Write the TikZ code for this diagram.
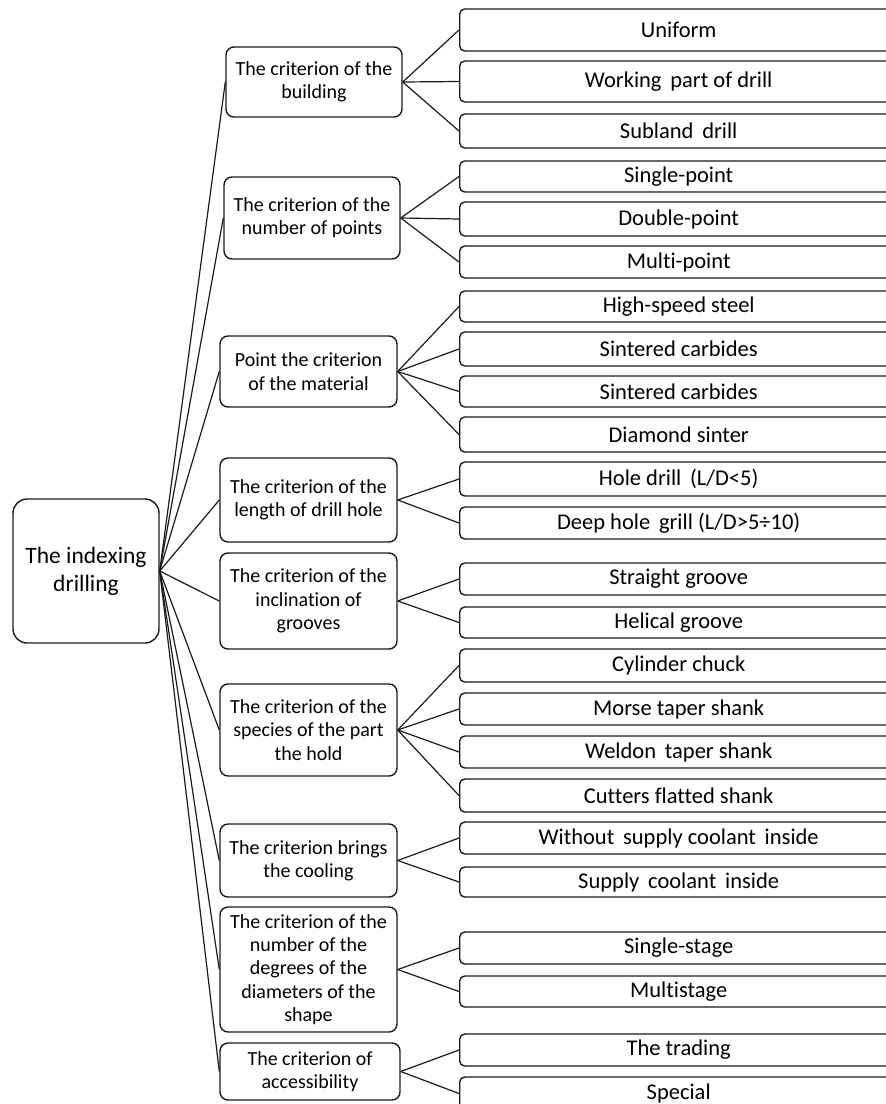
\documentclass[tikz,border=0pt]{standalone}
\usepackage{fontspec}
\setmainfont{Carlito}[Ligatures=NoCommon]
\usepackage{tikz}
\definecolor{ink}{HTML}{1A1A1A}

\begin{document}
\begin{tikzpicture}[
  x=1pt,y=-1pt,
  root/.style={draw=ink,line width=1.4pt,rounded corners=14pt,fill=white,align=center,
    minimum width=146pt,minimum height=144pt,inner sep=2pt,font=\fontsize{23.5}{28}\selectfont},
  crit/.style={draw=ink,line width=1.4pt,rounded corners=8pt,fill=white,align=center,
    minimum width=177pt,inner sep=1pt,font=\fontsize{20}{23.3}\selectfont},
  leaf/.style={draw=ink,line width=1.4pt,rounded corners=5pt,fill=white,anchor=west,
    minimum width=438pt,inner sep=1pt,font=\fontsize{22.5}{24}\selectfont},
  link/.style={draw=ink,line width=1.2pt}
]
\useasboundingbox (0,0) rectangle (886,1104);
% root
\node[root] (idx) at (86,571) {The indexing\\drilling};
% criteria
\node[crit,minimum width=176pt,minimum height=70pt] (bld) at (314,82) {The criterion of the\\building};
\node[crit,minimum width=176pt,minimum height=82pt] (pts) at (312,218) {The criterion of the\\number of points};
\node[crit,minimum height=71pt] (mat) at (308.5,371.5) {Point the criterion\\of the material};
\node[crit,minimum height=84pt] (len) at (308.5,500) {The criterion of the\\length of drill hole};
\node[crit,minimum height=96pt] (inc) at (308.5,601) {The criterion of the\\inclination of\\grooves};
\node[crit,minimum height=92pt] (spc) at (308.5,730) {The criterion of the\\species of the part\\the hold};
\node[crit,minimum height=73pt] (col) at (308.5,860.5) {The criterion brings\\the cooling};
\node[crit,minimum height=125pt] (deg) at (308.5,969.5) {The criterion of the\\number of the\\degrees of the\\diameters of the\\shape};
\node[crit,minimum width=180pt,minimum height=57pt] (acc) at (310,1071.5) {The criterion of\\accessibility};
% kinds
\node[leaf,minimum height=42pt] (unif) at (459,30) {Uniform};
\node[leaf,minimum height=41pt] (work) at (459,81.5) {Working\, part of drill};
\node[leaf,minimum height=34pt] (subl) at (459,131) {Subland\, drill};
\node[leaf,minimum height=31pt] (sgl) at (459,176.5) {Single-point};
\node[leaf,minimum height=34pt] (dbl) at (459,219) {Double-point};
\node[leaf,minimum height=32pt] (mlt) at (459,262) {Multi-point};
\node[leaf,minimum height=31pt] (hss) at (459,306.5) {High-speed steel};
\node[leaf,minimum height=34pt] (sinta) at (459,349) {Sintered carbides};
\node[leaf,minimum height=31pt] (sintb) at (459,391.5) {Sintered carbides};
\node[leaf,minimum height=35pt] (dia) at (459,434.5) {Diamond sinter};
\node[leaf,minimum height=34pt] (hole) at (459,479) {Hole drill\, (L/D<5)};
\node[leaf,minimum height=32pt] (deep) at (459,523) {Deep hole\, grill (L/D>5÷10)};
\node[leaf,minimum height=32pt] (str) at (459,579) {Straight groove};
\node[leaf,minimum height=31pt] (hel) at (459,622.5) {Helical groove};
\node[leaf,minimum height=33pt] (cyl) at (459,665.5) {Cylinder chuck};
\node[leaf,minimum height=32pt] (mor) at (459,709) {Morse taper shank};
\node[leaf,minimum height=32pt] (wel) at (459,752) {Weldon\, taper shank};
\node[leaf,minimum height=33pt] (cut) at (459,795.5) {Cutters flatted shank};
\node[leaf,minimum height=32pt] (wout) at (459,838) {Without\, supply coolant\, inside};
\node[leaf,minimum height=30pt] (sup) at (459,882) {Supply\, coolant\, inside};
\node[leaf,minimum height=32pt] (sst) at (459,948) {Single-stage};
\node[leaf,minimum height=31pt] (mst) at (459,991.5) {Multistage};
\node[leaf,minimum height=32pt] (trd) at (459,1050) {The trading};
\node[leaf,minimum height=33pt] (spe) at (459,1093.5) {Special};
% links
\draw[link] (idx.east) -- (bld.west);
\draw[link] (idx.east) -- (pts.west);
\draw[link] (idx.east) -- (mat.west);
\draw[link] (idx.east) -- (len.west);
\draw[link] (idx.east) -- (inc.west);
\draw[link] (idx.east) -- (spc.west);
\draw[link] (idx.east) -- (col.west);
\draw[link] (idx.east) -- (deg.west);
\draw[link] (idx.east) -- (acc.west);
\draw[link] (bld.east) -- (unif.west);
\draw[link] (bld.east) -- (work.west);
\draw[link] (bld.east) -- (subl.west);
\draw[link] (pts.east) -- (sgl.west);
\draw[link] (pts.east) -- (dbl.west);
\draw[link] (pts.east) -- (mlt.west);
\draw[link] (mat.east) -- (hss.west);
\draw[link] (mat.east) -- (sinta.west);
\draw[link] (mat.east) -- (sintb.west);
\draw[link] (mat.east) -- (dia.west);
\draw[link] (len.east) -- (hole.west);
\draw[link] (len.east) -- (deep.west);
\draw[link] (inc.east) -- (str.west);
\draw[link] (inc.east) -- (hel.west);
\draw[link] (spc.east) -- (cyl.west);
\draw[link] (spc.east) -- (mor.west);
\draw[link] (spc.east) -- (wel.west);
\draw[link] (spc.east) -- (cut.west);
\draw[link] (col.east) -- (wout.west);
\draw[link] (col.east) -- (sup.west);
\draw[link] (deg.east) -- (sst.west);
\draw[link] (deg.east) -- (mst.west);
\draw[link] (acc.east) -- (trd.west);
\draw[link] (acc.east) -- (spe.west);
\end{tikzpicture}
\end{document}
